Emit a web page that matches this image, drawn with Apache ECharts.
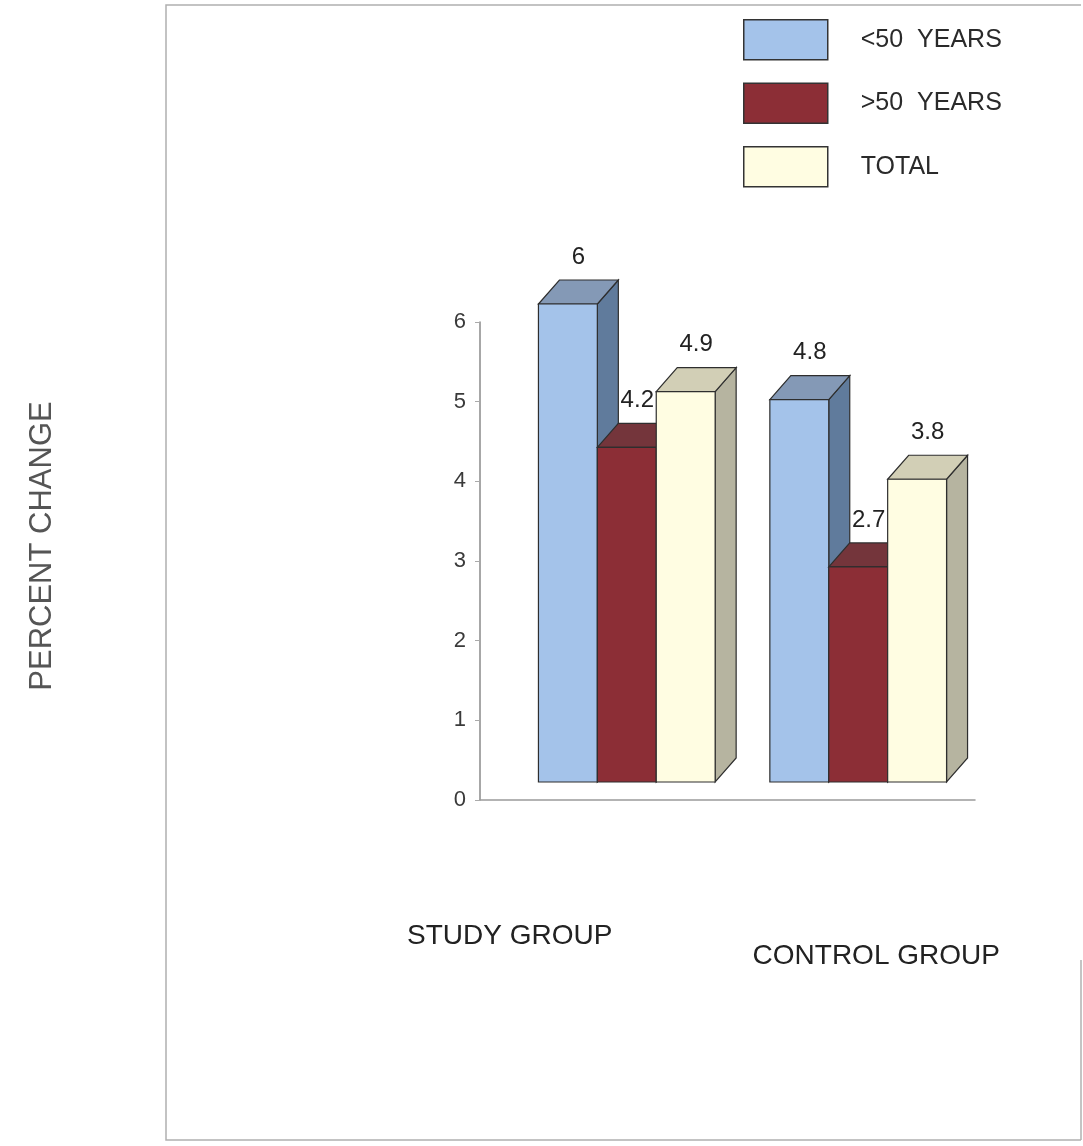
<!DOCTYPE html>
<html>
<head>
<meta charset="utf-8">
<script src="https://cdn.jsdelivr.net/npm/echarts@6/dist/echarts.min.js"></script>
<style>
  html, body { margin: 0; padding: 0; background: #ffffff; }
  #chart { width: 1083px; height: 1146px; }
</style>
</head>
<body>
<div id="chart"></div>
<script>
// Percent change by age band, study vs control group
const categories = ['STUDY GROUP', 'CONTROL GROUP'];
const seriesNames = ['<50  YEARS', '>50  YEARS', 'TOTAL'];
const under50 = [6, 4.8];
const over50 = [4.2, 2.7];
const total = [4.9, 3.8];
const yTicks = [0, 1, 2, 3, 4, 5, 6];

// face colours for each series: front, top, side
const faces = [
  { front: '#a4c3ea', top: '#8499b6', side: '#607b9c' },
  { front: '#8c2e36', top: '#74353b', side: '#5c2227' },
  { front: '#fffde2', top: '#d2cfb6', side: '#b6b4a0' }
];

const BAR_FRAC = 0.238;  // bar width as a share of the category band
const SPREAD = 0.935;    // pull the two bar groups slightly together
const SHIFT = 15;        // bars sit back on the floor, shifted right
const FLOOR = 18;        // floor raise of the bar bases
const DX = 21, DY = -24; // depth of the extruded boxes

function renderBox(params, api) {
  const cat = api.value(0);
  const val = api.value(1);
  const base = api.coord([cat, 0]);
  const top = api.coord([cat, val]);
  const mid = (api.coord([0, 0])[0] + api.coord([categories.length - 1, 0])[0]) / 2;
  const band = api.size([1, 0])[0];
  const w = band * BAR_FRAC;
  const k = params.seriesIndex;
  const f = faces[k];
  const cx = mid + (base[0] - mid) * SPREAD + SHIFT;
  const x0 = cx + (k - 1.5) * w;
  const x1 = x0 + w;
  const yb = base[1] - FLOOR;
  const yt = top[1] - FLOOR;
  const stroke = { stroke: '#2e2e2e', lineWidth: 1.2 };
  return {
    type: 'group',
    children: [
      {
        type: 'polygon',
        shape: { points: [[x1, yt], [x1 + DX, yt + DY], [x1 + DX, yb + DY], [x1, yb]] },
        style: Object.assign({ fill: f.side }, stroke)
      },
      {
        type: 'polygon',
        shape: { points: [[x0, yt], [x1, yt], [x1 + DX, yt + DY], [x0 + DX, yt + DY]] },
        style: Object.assign({ fill: f.top }, stroke)
      },
      {
        type: 'rect',
        shape: { x: x0, y: yt, width: w, height: yb - yt },
        style: Object.assign({ fill: f.front }, stroke)
      },
      {
        type: 'text',
        z2: 10,
        style: {
          text: String(val),
          x: x0 + w / 2 + DX / 2,
          y: yt + DY - 11,
          align: 'center',
          verticalAlign: 'bottom',
          fill: '#222',
          font: '24px "Liberation Sans", Arial, sans-serif'
        }
      }
    ]
  };
}

const valueSets = [under50, over50, total];
const series = seriesNames.map((name, i) => ({
  name: name,
  type: 'custom',
  renderItem: renderBox,
  itemStyle: { color: faces[i].front },
  encode: { x: 0, y: 1 },
  data: categories.map((c, j) => [j, valueSets[i][j]])
}));

const chart = echarts.init(document.getElementById('chart'), null, { renderer: 'canvas' });
chart.setOption({
  backgroundColor: '#ffffff',
  animation: false,
  textStyle: { fontFamily: '"Liberation Sans", Arial, sans-serif' },
  graphic: [
    {
      type: 'polyline',
      shape: { points: [[1081, 5], [166, 5], [166, 1140], [1081, 1140]] },
      style: { fill: 'none', stroke: '#b0b0b0', lineWidth: 1.5 },
      silent: true
    },
    {
      type: 'line',
      shape: { x1: 1081, y1: 960, x2: 1081, y2: 1140 },
      style: { stroke: '#b0b0b0', lineWidth: 1.5 },
      silent: true
    }
  ],
  legend: {
    orient: 'vertical',
    left: 738,
    top: 14,
    itemWidth: 84,
    itemHeight: 40,
    itemGap: 22,
    icon: 'rect',
    itemStyle: { borderColor: '#333', borderWidth: 1.5 },
    textStyle: { fontSize: 25, color: '#2a2a2a', padding: [6, 0, 0, 28] },
    data: seriesNames
  },
  grid: { left: 480, right: 108, top: 322, bottom: 346 },
  xAxis: {
    type: 'category',
    data: categories,
    boundaryGap: true,
    axisLine: { lineStyle: { color: '#9a9a9a', width: 1.5 } },
    axisTick: { show: false },
    axisLabel: {
      margin: 122,
      formatter: (v, i) => '{c' + i + '|' + v + '}',
      rich: {
        c0: { fontSize: 28, color: '#222', padding: [0, 188, 0, 0] },
        c1: { fontSize: 28, color: '#222', padding: [20, 0, 0, 50] }
      }
    }
  },
  yAxis: {
    type: 'value',
    min: yTicks[0],
    max: yTicks[yTicks.length - 1],
    interval: 1,
    name: 'PERCENT CHANGE',
    nameLocation: 'middle',
    nameRotate: 90,
    nameGap: 422,
    nameTextStyle: { fontSize: 31, color: '#555', padding: [0, 0, 0, 30] },
    axisLine: { show: true, lineStyle: { color: '#8a8a8a', width: 1.5 } },
    axisTick: { show: true, length: 5, lineStyle: { color: '#aaa' } },
    splitLine: { show: false },
    axisLabel: { margin: 14, fontSize: 22, color: '#3a3a3a' }
  },
  series: series
});
</script>
</body>
</html>
